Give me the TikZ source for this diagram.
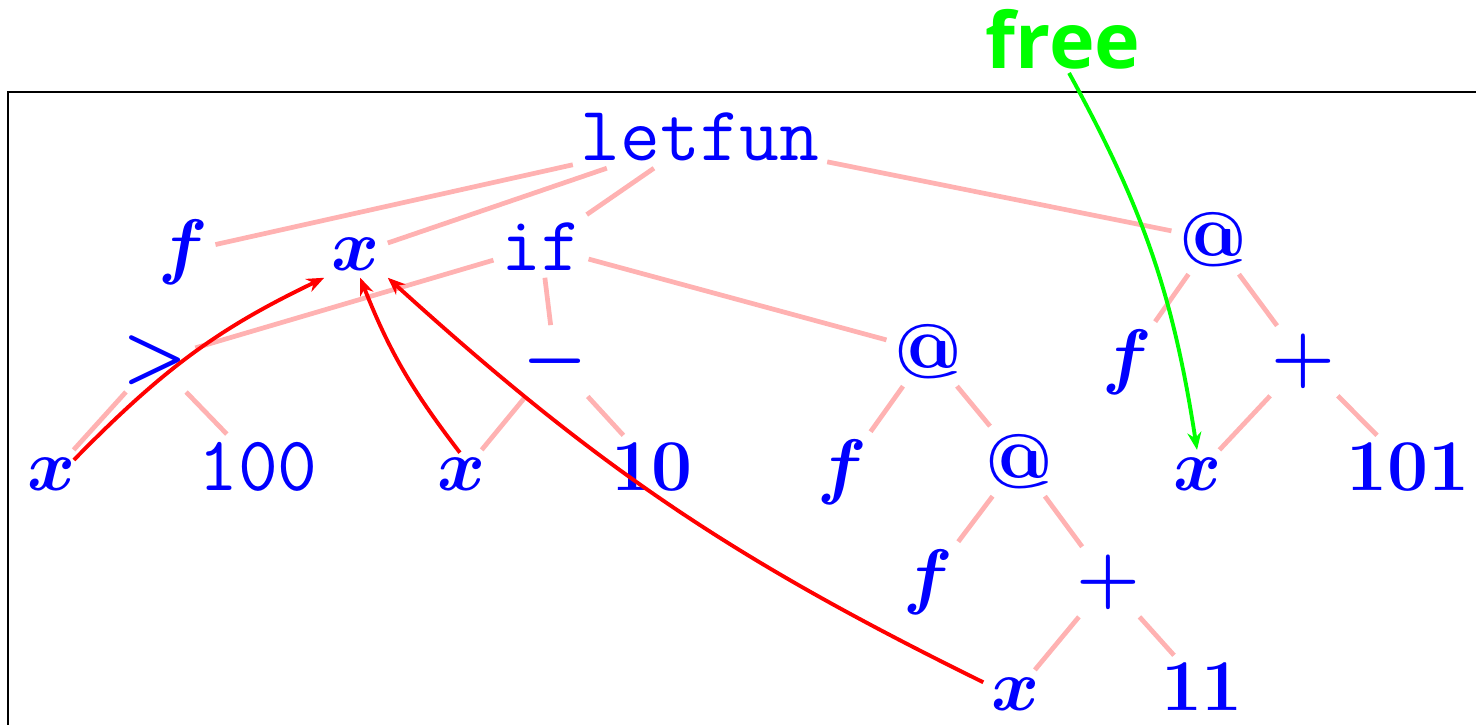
\documentclass[tikz,border=0pt]{standalone}
\usepackage{fontspec}
\usepackage{amsmath,amssymb,bm}
\usetikzlibrary{arrows.meta}
\newfontfamily\freefont{Open Sans}

\begin{document}
\begin{tikzpicture}
\tikzset{
    term/.style={text=blue, font=\fontsize{22}{26}\selectfont\boldmath, inner sep=2pt, anchor=base},
    branch/.style={draw=red!30, line width=1.35pt},
    bind/.style={->, draw=red, line width=1.1pt, >={Stealth[length=5pt,width=4pt]}},
    freeref/.style={->, draw=green, line width=1.1pt, >={Stealth[length=5pt,width=4pt]}}
}
\useasboundingbox (0,0) rectangle (14.76,-7.24);
\draw[line width=0.7pt] (0.08,-0.92) rectangle (15.5,-8);
% tree nodes
\node[term] (letfun) at (7.00,-1.60) {\texttt{letfun}};
\node[term] (fa) at (1.83,-2.70) {$f$};
\node[term] (xa) at (3.56,-2.70) {$x$};
\node[term] (ifb) at (5.41,-2.70) {\texttt{if}};
\node[term] (appa) at (12.13,-2.66) {\textbf{@}};
\node[term] (gt) at (1.55,-3.78) {$>$};
\node[term] (minus) at (5.55,-3.79) {$-$};
\node[term] (appb) at (9.28,-3.78) {\textbf{@}};
\node[term] (fb) at (11.27,-3.80) {$f$};
\node[term] (plusa) at (13.03,-3.79) {$+$};
\node[term] (xb) at (0.52,-4.90) {$x$};
\node[term] (hundred) at (2.58,-4.90) {\texttt{100}};
\node[term] (xc) at (4.62,-4.90) {$x$};
\node[term] (ten) at (6.52,-4.90) {$10$};
\node[term] (fc) at (8.42,-4.90) {$f$};
\node[term] (appc) at (10.19,-4.88) {\textbf{@}};
\node[term] (xd) at (11.97,-4.90) {$x$};
\node[term] (hundredone) at (14.08,-4.90) {$101$};
\node[term] (fd) at (9.28,-6.00) {$f$};
\node[term] (plusb) at (11.08,-6.00) {$+$};
\node[term] (xe) at (10.15,-7.10) {$x$};
\node[term] (eleven) at (12.02,-7.10) {$11$};
\node[text=green, font=\fontsize{22}{26}\selectfont\freefont\bfseries, inner sep=1pt, anchor=base] (free) at (10.63,-0.68) {free};
% edges
\draw[branch] (letfun) -- (fa);
\draw[branch] (letfun) -- (xa);
\draw[branch] (letfun) -- (ifb);
\draw[branch] (letfun) -- (appa);
\draw[branch] (ifb) -- (gt);
\draw[branch] (ifb) -- (minus);
\draw[branch] (ifb) -- (appb);
\draw[branch] (gt) -- (xb);
\draw[branch] (gt) -- (hundred);
\draw[branch] (minus) -- (xc);
\draw[branch] (minus) -- (ten);
\draw[branch] (appb) -- (fc);
\draw[branch] (appb) -- (appc);
\draw[branch] (appc) -- (fd);
\draw[branch] (appc) -- (plusb);
\draw[branch] (plusb) -- (xe);
\draw[branch] (plusb) -- (eleven);
\draw[branch] (appa) -- (fb);
\draw[branch] (appa) -- (plusa);
\draw[branch] (plusa) -- (xd);
\draw[branch] (plusa) -- (hundredone);
% bindings
\draw[bind, shorten <=-4pt] (xb.north east) to[bend left=10] (xa.south west);
\draw[bind, shorten <=-1pt] (xc.100) to[bend left=8] (xa.-80);
\draw[bind] (xe.160) to[bend left=8] (xa.south east);
\draw[freeref] (free.280) to[bend left=10] (xd.north);
\end{tikzpicture}
\end{document}
